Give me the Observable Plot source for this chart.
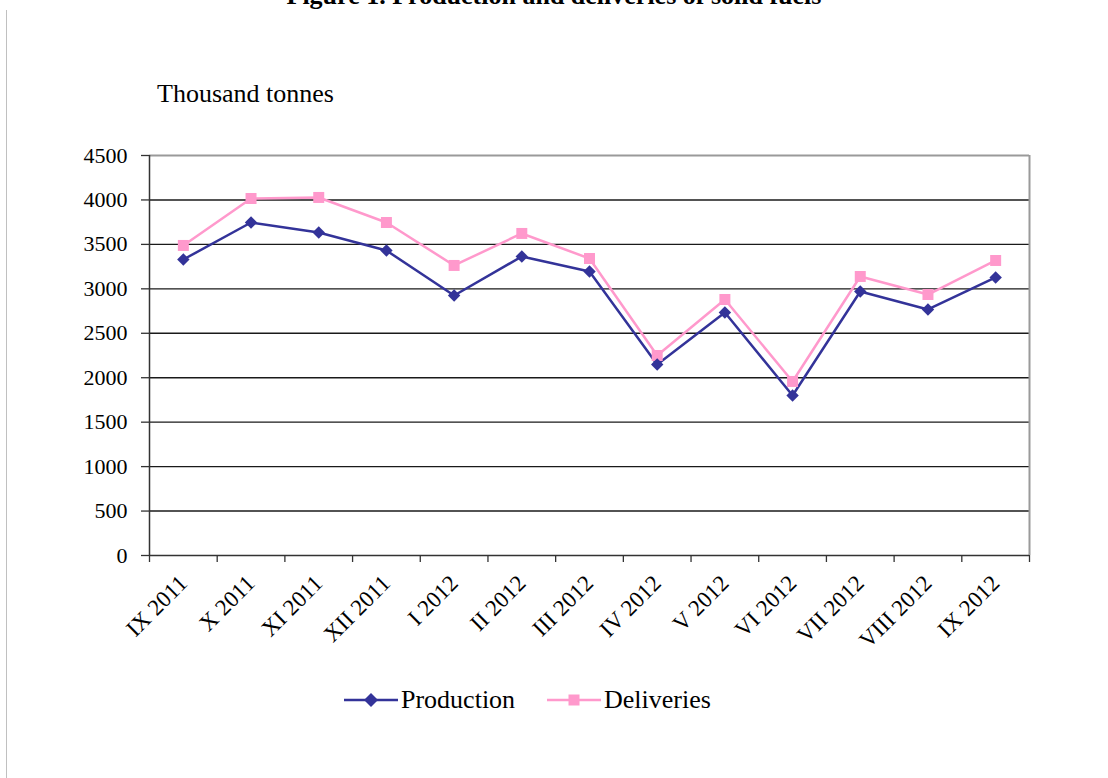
<!DOCTYPE html>
<html>
<head>
<meta charset="utf-8">
<script src="https://cdn.jsdelivr.net/npm/d3@7"></script>
<script src="https://cdn.jsdelivr.net/npm/@observablehq/plot@0.6"></script>
<style>
  html, body { margin: 0; padding: 0; background: #fff; }
  #wrap { position: relative; width: 1108px; height: 778px; overflow: hidden; font-family: "Liberation Serif", "Times New Roman", serif; color: #000; }
  #border { position: absolute; left: 6px; top: 10px; width: 1px; height: 800px; background: #c0c0c0; }
  #title { position: absolute; left: 0; width: 1108px; top: -17px; text-align: center; font-size: 26px; line-height: 26px; font-weight: bold; }
  #ylabel { position: absolute; left: 157px; top: 80px; font-size: 26px; line-height: 28px; }
  #chart { position: absolute; left: 0; top: 0; }
  #legend { position: absolute; top: 684px; left: 0; width: 1108px; font-size: 26px; line-height: 32px; }
  .item { position: absolute; display: flex; align-items: center; }
  .item svg { margin-right: 3px; }
</style>
</head>
<body>
<div id="wrap">
  <div id="border"></div>
  <div id="title">Figure 1. Production and deliveries of solid fuels</div>
  <div id="ylabel">Thousand tonnes</div>
  <div id="chart"></div>
  <div id="legend">
    <div class="item" style="left:344px">
      <svg width="54" height="20"><line x1="0" y1="10" x2="54" y2="10" stroke="#333399" stroke-width="2.5"/><path d="M27,3 L34,10 L27,17 L20,10 Z" fill="#333399"/></svg>Production
    </div>
    <div class="item" style="left:547px">
      <svg width="54" height="20"><line x1="0" y1="10" x2="54" y2="10" stroke="#FF99CC" stroke-width="2.5"/><rect x="21.5" y="4.5" width="11" height="11" fill="#FF99CC"/></svg>Deliveries
    </div>
  </div>
</div>
<script>
const months = ["IX 2011","X 2011","XI 2011","XII 2011","I 2012","II 2012","III 2012","IV 2012","V 2012","VI 2012","VII 2012","VIII 2012","IX 2012"];
const production = [3330,3746,3634,3431,2925,3364,3195,2149,2734,1800,2970,2768,3128];
const deliveries = [3488,4016,4028,3746,3263,3623,3341,2250,2880,1958,3139,2936,3319];
const yTicks = [0,500,1000,1500,2000,2500,3000,3500,4000,4500];

const rows = months.map((m, i) => ({month: m, pos: i + 0.5, production: production[i], deliveries: deliveries[i]}));
const bounds = d3.range(months.length + 1);
const centers = rows.map(d => d.pos);
const font = "Liberation Serif";

const chart = Plot.plot({
  width: 1108,
  height: 720,
  marginLeft: 149,
  marginRight: 79,
  marginTop: 155,
  marginBottom: 165,
  style: {fontFamily: font, background: "transparent", color: "#000", overflow: "visible"},
  x: {type: "linear", domain: [0, months.length]},
  y: {domain: [0, 4500]},
  marks: [
    Plot.ruleY(yTicks.filter(v => v > 0 && v < 4500), {y: d => d, stroke: "#1a1a1a", strokeWidth: 1.4}),
    Plot.ruleY([4500], {stroke: "#9a9a9a", strokeWidth: 2}),
    Plot.ruleX([months.length], {stroke: "#9a9a9a", strokeWidth: 2}),
    Plot.axisY({ticks: yTicks, tickSize: 8, tickPadding: 14, fontSize: 22, fontFamily: font, stroke: "#333", strokeWidth: 1.3, label: null, tickFormat: d => String(d)}),
    Plot.axisX({ticks: bounds, tickSize: 7, tickFormat: () => "", stroke: "#333", strokeWidth: 1.3, label: null}),
    Plot.axisX({ticks: centers, tickSize: 0, tickPadding: 24, tickRotate: -45, fontSize: 23, fontFamily: font, tickFormat: d => months[Math.round(d - 0.5)], label: null}),
    Plot.ruleX([0], {stroke: "#333", strokeWidth: 1.5}),
    Plot.ruleY([0], {stroke: "#333", strokeWidth: 1.5}),
    Plot.line(rows, {x: "pos", y: "deliveries", stroke: "#FF99CC", strokeWidth: 2.5}),
    Plot.line(rows, {x: "pos", y: "production", stroke: "#333399", strokeWidth: 2.5}),
    Plot.dot(rows, {x: "pos", y: "deliveries", symbol: "square", r: 6.2, fill: "#FF99CC", stroke: "none"}),
    Plot.dot(rows, {x: "pos", y: "production", symbol: "diamond2", r: 5.6, fill: "#333399", stroke: "none"})
  ]
});
document.getElementById("chart").appendChild(chart);
</script>
</body>
</html>
